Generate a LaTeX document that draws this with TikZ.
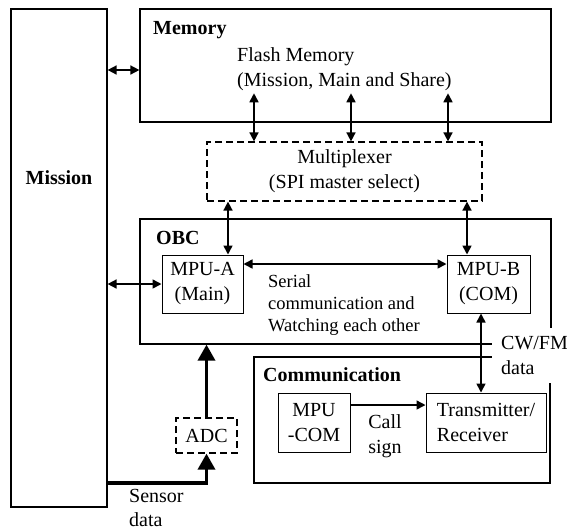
\documentclass[tikz,border=0pt]{standalone}
\usepackage{fontspec}
\setmainfont{Liberation Serif}
\usetikzlibrary{arrows.meta}

\begin{document}
\begin{tikzpicture}[x=1pt, y=-1pt,
    font=\fontsize{20}{25}\selectfont,
    box/.style={draw, line width=1.2pt, inner sep=0pt},
    unit/.style={draw, line width=1pt, inner sep=0pt, align=center},
    dashbox/.style={draw, dashed, dash pattern=on 7pt off 4pt, line width=1.2pt, inner sep=0pt, align=center},
    title/.style={anchor=base west, inner sep=0pt, font=\fontsize{20}{25}\selectfont\bfseries},
    arr/.style={{Triangle[length=9pt,width=9pt]}-{Triangle[length=9pt,width=9pt]}, line width=1.6pt},
    onearr/.style={-{Triangle[length=9pt,width=9pt]}, line width=1.4pt},
    bigarr/.style={-{Triangle[length=16pt,width=17pt]}, line width=3.5pt}]
    \useasboundingbox (0,0) rectangle (567,531);

    % outer blocks
    \node[box, minimum width=96pt, minimum height=498pt](mission) at (59,258){};
    \node[font=\fontsize{20}{25}\selectfont\bfseries](missiontext) at (59,178){Mission};
    \node[box, minimum width=411pt, minimum height=113pt](memory) at (345.5,65.5){};
    \node[title](memorytext) at (153,34){Memory};
    \node[anchor=west, align=left, inner sep=2pt](flash) at (235,69.5){Flash Memory\\(Mission, Main and Share)};
    \node[dashbox, minimum width=275pt, minimum height=59pt](mux) at (344.5,171.5){Multiplexer\\(SPI master select)};
    \node[box, minimum width=411pt, minimum height=125pt](obc) at (345.5,281.5){};
    \node[title](obctext) at (156,244){OBC};
    \node[box, minimum width=296pt, minimum height=126pt](comm) at (402,420){};
    \node[title](commtext) at (263,381){Communication};

    % inner units
    \node[unit, minimum width=81pt, minimum height=58pt](mpua) at (202.5,284){MPU-A\\(Main)};
    \node[unit, minimum width=83pt, minimum height=58pt](mpub) at (488.5,284){MPU-B\\(COM)};
    \node[unit, minimum width=72pt, minimum height=59pt](mpucom) at (314,422.5){MPU\\-COM};
    \node[unit, align=left, minimum width=120pt, minimum height=59pt](trx) at (486,422.5){Transmitter/\\Receiver};
    \node[dashbox, minimum width=61pt, minimum height=35pt](adc) at (206.5,435.5){ADC};

    % labels
    \node[anchor=west, align=left, inner sep=0pt, font=\fontsize{18.5}{22}\selectfont](serial) at (268,305){Serial\\communication and\\Watching each other};
    \node[align=center, inner sep=0pt](callsign) at (385,436.5){Call\\sign};
    \node[anchor=west, align=left, inner sep=0pt, font=\fontsize{20}{24}\selectfont](sensor) at (129,507.5){Sensor\\data};
    \node[anchor=west, align=left, fill=white, inner xsep=9pt, inner ysep=8pt](cwfm) at (492,355.5){CW/FM\\data};

    % connections
    \draw[arr] (mission.east |- 0,70) -- (memory.west |- 0,70);
    \draw[arr] (mission.east |- mpua.west) -- (mpua.west);
    \foreach \x in {254,351,448}
        \draw[arr] (\x,0 |- flash.south) -- (\x,0 |- mux.north);
    \draw[arr] (228,0 |- mux.south) -- (228,0 |- mpua.north);
    \draw[arr] (467,0 |- mux.south) -- (467,0 |- mpub.north);
    \draw[arr] (mpua.east |- 0,264) -- (mpub.west |- 0,264);
    \draw[arr] (481,0 |- mpub.south) -- (481,0 |- trx.north);
    \draw[onearr] (mpucom.east |- 0,405) -- (trx.west |- 0,405);
    \draw[bigarr] (adc.north) -- (adc.north |- obc.south);
    \draw[bigarr] (mission.east |- 0,483) -| (adc.south);
\end{tikzpicture}
\end{document}
